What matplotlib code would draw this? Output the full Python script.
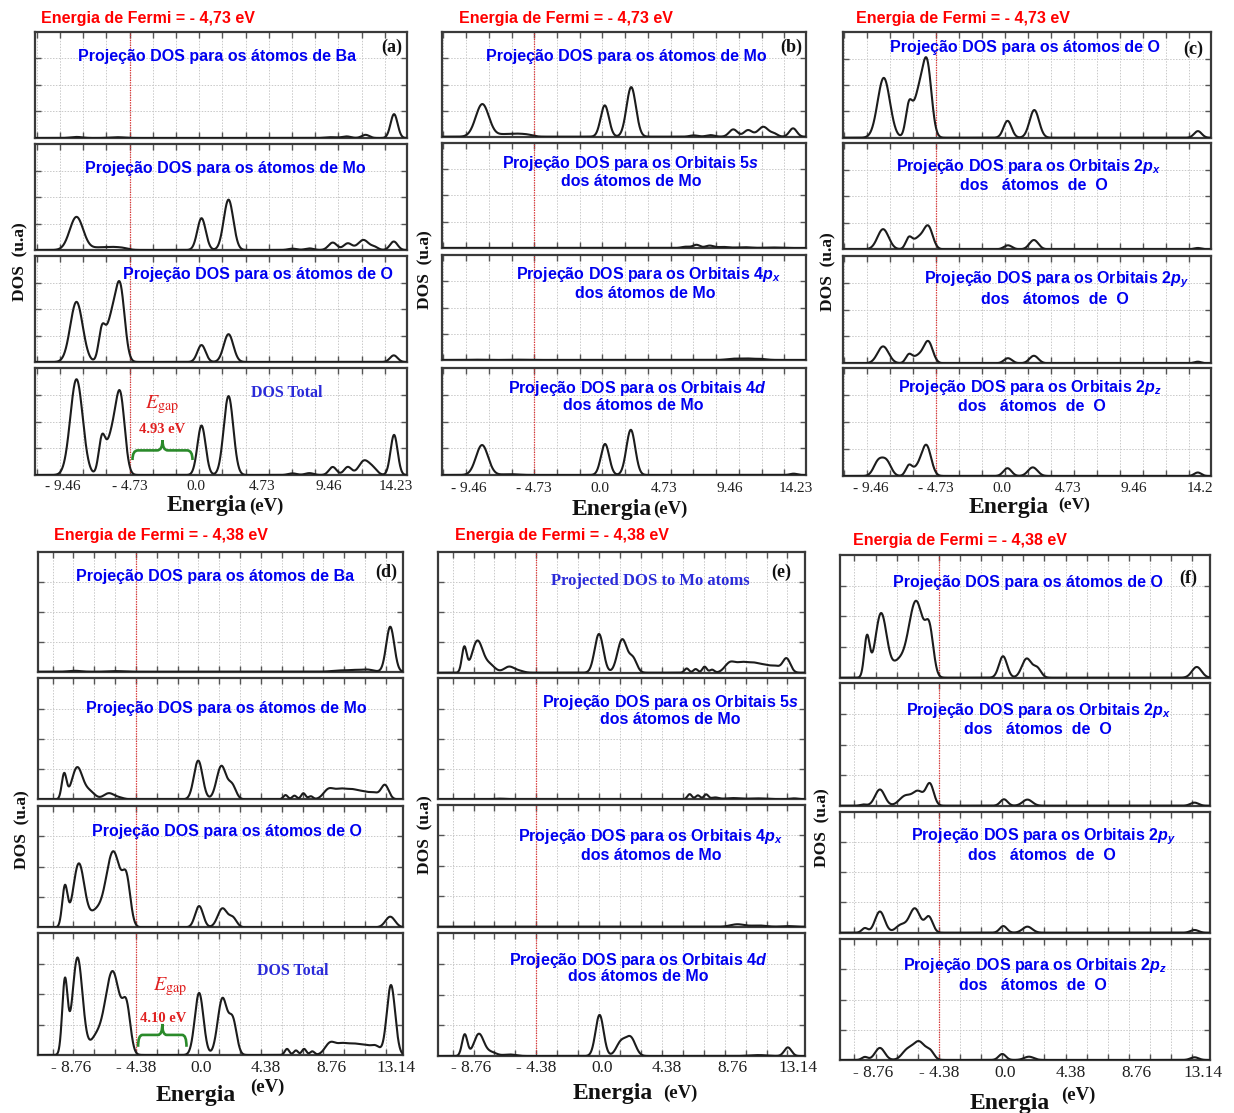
import numpy as np
import matplotlib.pyplot as plt
from matplotlib.path import Path
from matplotlib.patches import PathPatch
from matplotlib.transforms import blended_transform_factory

plt.rcParams.update({
    "mathtext.fontset": "custom",
    "mathtext.rm": "Liberation Sans:bold",
    "mathtext.it": "Liberation Sans:italic:bold",
    "mathtext.bf": "Liberation Sans:bold",
})

W, H = 1234, 1113
SANS = "Liberation Sans"
SERIF = "Liberation Serif"
BLUE = "#0000f0"
RED = "#ff0000"

# ---------------------------------------------------------------------------
# Data: each DOS curve is a list of broadened levels
# (energy eV, height in grid units, width eV)
# ---------------------------------------------------------------------------
TOP_FERMI = -4.73
BOT_FERMI = -4.38
TOP_TICKS = [-9.46, -4.73, 0.0, 4.73, 9.46, 14.23]
TOP_LABELS = ["- 9.46", "- 4.73", "0.0", "4.73", "9.46", "14.23"]
TOP_LABELS_C = ["- 9.46", "- 4.73", "0.0", "4.73", "9.46", "14.2"]
BOT_TICKS = [-8.76, -4.38, 0.0, 4.38, 8.76, 13.14]
BOT_LABELS = ["- 8.76", "- 4.38", "0.0", "4.38", "8.76", "13.14"]

# --- Fermi = -4.73 eV set ---
BA_1 = [(-8.5, 0.04, 0.4), (-5.6, 0.03, 0.5), (9.6, 0.03, 0.4), (10.7, 0.06, 0.3),
        (12.05, 0.12, 0.27), (14.08, 0.9, 0.25)]
MO_1 = [(-8.5, 1.25, 0.48), (-7.0, 0.08, 0.5), (-6.0, 0.1, 0.5), (-5.2, 0.06, 0.4),
        (0.39, 1.2, 0.3), (2.31, 1.9, 0.34), (6.86, 0.05, 0.3), (8.06, 0.06, 0.3),
        (9.72, 0.28, 0.3), (10.79, 0.25, 0.3), (11.9, 0.38, 0.38), (12.7, 0.1, 0.25),
        (14.06, 0.32, 0.27)]
O_1 = [(-8.5, 2.27, 0.44), (-6.7, 1.1, 0.23), (-6.0, 1.6, 0.38), (-5.38, 2.55, 0.32),
       (0.39, 0.64, 0.29), (2.31, 1.05, 0.34), (14.06, 0.25, 0.27)]
TOTAL_1 = [(-8.5, 3.58, 0.44), (-6.7, 1.25, 0.23), (-6.0, 1.4, 0.38), (-5.38, 2.75, 0.32),
           (0.39, 1.85, 0.29), (2.31, 2.95, 0.34), (6.86, 0.06, 0.3), (8.06, 0.07, 0.3),
           (9.72, 0.3, 0.27), (10.79, 0.3, 0.27), (11.95, 0.53, 0.38), (12.6, 0.2, 0.3),
           (14.08, 1.5, 0.25)]
MO_5S_1 = [(6.3, 0.05, 0.3), (7.05, 0.12, 0.25), (8.0, 0.09, 0.3), (9.0, 0.04, 0.4),
           (10.5, 0.03, 0.5), (12.5, 0.02, 0.5)]
MO_4PX_1 = [(-9.0, 0.01, 0.4), (-6.0, 0.01, 0.4), (9.6, 0.04, 0.4), (10.6, 0.06, 0.5),
            (11.7, 0.04, 0.4)]
MO_4D_1 = [(-8.52, 1.12, 0.44), (-6.5, 0.03, 0.6), (0.41, 1.16, 0.3), (2.28, 1.69, 0.32),
           (14.1, 0.05, 0.25)]
O_2PX_1 = [(-8.55, 0.76, 0.4), (-6.7, 0.4, 0.23), (-6.0, 0.42, 0.38), (-5.3, 0.82, 0.32),
           (0.42, 0.15, 0.29), (2.28, 0.35, 0.32), (14.05, 0.05, 0.25)]
O_2PY_1 = [(-8.55, 0.63, 0.4), (-6.7, 0.3, 0.23), (-6.0, 0.28, 0.38), (-5.3, 0.78, 0.32),
           (0.42, 0.19, 0.29), (2.28, 0.28, 0.32), (14.05, 0.06, 0.25)]
O_2PZ_1 = [(-8.9, 0.52, 0.33), (-8.3, 0.52, 0.33), (-6.7, 0.36, 0.23), (-6.0, 0.33, 0.38),
           (-5.42, 1.05, 0.33), (0.38, 0.29, 0.29), (2.2, 0.32, 0.34), (14.05, 0.13, 0.25)]

# --- Fermi = -4.38 eV set ---
BA_2 = [(-8.5, 0.03, 0.4), (-5.7, 0.02, 0.5), (9.3, 0.04, 0.5), (10.3, 0.05, 0.4),
        (11.2, 0.07, 0.4), (12.75, 1.5, 0.27)]
MO_2 = [(-9.21, 0.82, 0.16), (-8.33, 1.05, 0.36), (-7.5, 0.25, 0.35), (-6.2, 0.2, 0.35),
        (-5.5, 0.05, 0.3), (-0.18, 1.28, 0.29), (1.38, 1.1, 0.32), (2.1, 0.45, 0.26),
        (5.7, 0.14, 0.15), (6.3, 0.12, 0.15), (6.9, 0.2, 0.15), (7.4, 0.1, 0.15),
        (8.6, 0.32, 0.35), (9.4, 0.3, 0.4), (10.2, 0.27, 0.4), (11.0, 0.22, 0.4),
        (11.7, 0.17, 0.3), (12.39, 0.47, 0.26)]
O_2 = [(-9.16, 1.3, 0.18), (-8.22, 2.1, 0.38), (-7.1, 0.45, 0.4), (-5.9, 2.5, 0.5),
       (-5.0, 1.3, 0.26), (-0.12, 0.7, 0.27), (1.45, 0.62, 0.32), (2.15, 0.3, 0.26),
       (12.75, 0.35, 0.32)]
TOTAL_2 = [(-9.16, 2.4, 0.18), (-8.31, 3.2, 0.34), (-7.1, 0.5, 0.4), (-5.95, 2.75, 0.5),
           (-5.0, 1.35, 0.26), (-0.12, 2.04, 0.29), (1.45, 1.85, 0.32), (2.15, 1.1, 0.26),
           (5.8, 0.2, 0.15), (6.4, 0.15, 0.15), (6.95, 0.2, 0.15), (7.5, 0.12, 0.15),
           (8.7, 0.38, 0.35), (9.5, 0.33, 0.4), (10.3, 0.3, 0.4), (11.1, 0.28, 0.4),
           (11.8, 0.25, 0.3), (12.8, 2.3, 0.28)]
MO_5S_2 = [(-6.8, 0.02, 0.4), (5.9, 0.17, 0.15), (6.45, 0.13, 0.15), (7.0, 0.16, 0.15),
           (7.6, 0.06, 0.25), (8.8, 0.04, 0.5), (10.5, 0.03, 0.6), (12.9, 0.03, 0.3)]
MO_4PX_2 = [(9.1, 0.08, 0.45), (10.5, 0.04, 0.5), (12.5, 0.02, 0.4)]
MO_4D_2 = [(-9.18, 0.7, 0.18), (-8.23, 0.72, 0.33), (-7.4, 0.12, 0.35), (-6.17, 0.05, 0.4),
           (-0.14, 1.34, 0.27), (1.3, 0.45, 0.32), (1.95, 0.58, 0.32), (10.5, 0.03, 0.6),
           (12.48, 0.28, 0.24)]
O_2PX_2 = [(-9.4, 0.04, 0.2), (-8.3, 0.53, 0.32), (-6.6, 0.32, 0.4), (-5.75, 0.45, 0.35),
           (-4.98, 0.7, 0.26), (-0.06, 0.21, 0.24), (1.5, 0.2, 0.32), (12.6, 0.1, 0.27)]
O_2PY_2 = [(-9.3, 0.15, 0.2), (-8.3, 0.7, 0.32), (-6.9, 0.25, 0.35), (-5.98, 0.8, 0.36),
           (-5.05, 0.52, 0.26), (-0.1, 0.22, 0.24), (1.5, 0.2, 0.32), (12.6, 0.09, 0.27)]
O_2PZ_2 = [(-9.3, 0.1, 0.2), (-8.3, 0.4, 0.32), (-6.5, 0.3, 0.35), (-5.7, 0.6, 0.4),
           (-4.95, 0.25, 0.26), (-0.17, 0.2, 0.24), (1.6, 0.11, 0.32), (12.6, 0.09, 0.27)]

TITLE_BA = "Projeção DOS para os átomos de Ba"
TITLE_MO = "Projeção DOS para os átomos de Mo"
TITLE_O = "Projeção DOS para os átomos de O"
ORB_5S = ["Projeção DOS para os Orbitais $\\mathit{5s}$", "dos átomos de Mo"]
ORB_4PX = ["Projeção DOS para os Orbitais $\\mathit{4p}_{x}$", "dos átomos de Mo"]
ORB_4D = ["Projeção DOS para os Orbitais $\\mathit{4d}$", "dos átomos de Mo"]
ORB_2PX = ["Projeção DOS para os Orbitais 2$p_{x}$", "dos   átomos  de  O"]
ORB_2PY = ["Projeção DOS para os Orbitais 2$p_{y}$", "dos   átomos  de  O"]
ORB_2PZ = ["Projeção DOS para os Orbitais 2$p_{z}$", "dos   átomos  de  O"]

# ---------------------------------------------------------------------------
fig = plt.figure(figsize=(W / 100, H / 100), dpi=100)


def ftext(x, y, s, **kw):
    return fig.text(x / W, 1 - y / H, s, **kw)


def dos(peaks, e):
    y = np.zeros_like(e)
    for c, h, w in peaks:
        y += h * np.exp(-(e - c) ** 2 / (2 * w * w))
    return y


def brace(ax, x0, x1, yb, yl, yt, color="#2a8a2a"):
    xm = (x0 + x1) / 2
    r = (x1 - x0) * 0.09
    verts = [(x0, yb), (x0, yl), (x0 + r, yl), (xm - r, yl), (xm, yl), (xm, yt),
             (xm, yl), (xm + r, yl), (x1 - r, yl), (x1, yl), (x1, yb)]
    codes = [Path.MOVETO, Path.CURVE3, Path.CURVE3, Path.LINETO, Path.CURVE3, Path.CURVE3,
             Path.CURVE3, Path.CURVE3, Path.LINETO, Path.CURVE3, Path.CURVE3]
    ax.add_patch(PathPatch(Path(verts, codes), fc="none", ec=color, lw=1.9, zorder=5))


def panel(left, right, rows, xlim, fermi, step, curves, ticks, labels, tick_y, tick_fs):
    axes = []
    grid = fermi + step * np.arange(-6, 16)
    grid = grid[(grid > xlim[0] + 0.05) & (grid < xlim[1] - 0.05)]
    e = np.linspace(xlim[0], xlim[1], 2000)
    for (top, bottom), peaks in zip(rows, curves):
        ax = fig.add_axes([left / W, 1 - bottom / H, (right - left) / W, (bottom - top) / H])
        ax.set_xlim(xlim)
        ax.set_ylim(0, 4)
        ax.set_xticks(grid)
        ax.set_yticks([1, 2, 3])
        ax.tick_params(direction="in", length=4, width=1, color="#555555",
                       top=True, right=True, labelbottom=False, labelleft=False)
        ax.grid(True, color="#c9c9c9", ls=(0, (1.5, 1.5)), lw=0.7)
        ax.axvline(fermi, color="#e03030", ls=(0, (1, 1)), lw=0.9, zorder=2)
        for sp in ax.spines.values():
            sp.set_color("#3a3a3a")
            sp.set_linewidth(1.6)
        ax.plot(e, dos(peaks, e), color="#1c1c1c", lw=1.5, zorder=3)
        axes.append(ax)
    tr = blended_transform_factory(axes[-1].transData, fig.transFigure)
    for t, lab in zip(ticks, labels):
        axes[-1].text(t, 1 - tick_y / H, lab, transform=tr, ha="center", va="center",
                      family=SERIF, fontsize=tick_fs, color="#202020")
    return axes


def titles(items, size=11.5):
    for x, y, s in items:
        ftext(x, y, s, ha="center", va="center", family=SANS, weight="bold",
              fontsize=size, color=BLUE)


def fermi_title(x, y, s):
    ftext(x, y, s, ha="center", va="center", family=SANS, weight="bold",
          fontsize=11.5, color=RED)


def energia(x1, y1, x2, y2, fs1=17, fs2=13.5):
    ftext(x1, y1, "Energia", ha="center", va="center", family=SERIF, weight="bold",
          fontsize=fs1, color="#111111")
    ftext(x2, y2, "(eV)", ha="center", va="center", family=SERIF, weight="bold",
          fontsize=fs2, color="#111111")


def ylab(x, y):
    ftext(x, y, "DOS  (u.a)", ha="center", va="center", rotation=90, family=SERIF,
          weight="bold", fontsize=12.5, color="#111111")


def letter(x, y, s):
    ftext(x, y, s, ha="center", va="center", family=SERIF, weight="bold",
          fontsize=13, color="#111111")


TOP_XLIM = (-11.45, 15.0)
BOT_XLIM = (-10.95, 13.63)

# ---------------- (a) ----------------
ax_a = panel(35, 407, [(32, 138), (144, 250), (256, 362), (368, 475)], TOP_XLIM, TOP_FERMI,
             1.65, [BA_1, MO_1, O_1, TOTAL_1], TOP_TICKS, TOP_LABELS, 487, 11)
fermi_title(148, 19, "Energia de Fermi = - 4,73 eV")
titles([(217, 57, TITLE_BA), (225, 168, TITLE_MO), (258, 275, TITLE_O)])
letter(392, 47, "(a)")
brace(ax_a[3], -4.52, -0.25, 0.56, 0.92, 1.3)
ax_a[3].text(-2.38, 1.7, "4.93 eV", ha="center", va="center", family=SERIF, weight="bold",
             fontsize=10.5, color="#e02020")
ax_a[3].text(-2.38, 2.62, "$E_{\\rm gap}$", ha="center", va="center", fontsize=14.5,
             color="#e02020", math_fontfamily="stix")
ax_a[3].text(6.43, 3.07, "DOS Total", ha="center", va="center", family=SERIF, weight="bold",
             fontsize=11.5, color="#2b2bd9")
energia(207, 506, 266, 506)
ylab(20, 262)

# ---------------- (b) ----------------
panel(441.7, 806, [(32.3, 136.7), (142.7, 248), (255, 360), (368, 475)], TOP_XLIM, TOP_FERMI,
      1.65, [MO_1, MO_5S_1, MO_4PX_1, MO_4D_1], TOP_TICKS, TOP_LABELS, 488, 11)
fermi_title(566, 19, "Energia de Fermi = - 4,73 eV")
titles([(626.7, 56.7, TITLE_MO),
        (630, 163.3, ORB_5S[0]), (631.7, 181.7, ORB_5S[1]),
        (648.3, 275, ORB_4PX[0]), (645, 293.3, ORB_4PX[1]),
        (636.7, 388.3, ORB_4D[0]), (633.3, 405, ORB_4D[1])])
letter(791.7, 47, "(b)")
energia(612, 509, 670, 509)
ylab(425, 270)

# ---------------- (c) ----------------
panel(842.7, 1211, [(32.3, 137.7), (143.3, 249.3), (256, 363.3), (368.3, 476)], TOP_XLIM,
      TOP_FERMI, 1.65, [O_1, O_2PX_1, O_2PY_1, O_2PZ_1], TOP_TICKS, TOP_LABELS_C, 488, 11)
fermi_title(963.3, 18, "Energia de Fermi = - 4,73 eV")
titles([(1025, 47.7, TITLE_O),
        (1028.3, 166.7, ORB_2PX[0]), (1034, 186, ORB_2PX[1]),
        (1056.7, 280, ORB_2PY[0]), (1055, 299.3, ORB_2PY[1]),
        (1030, 387.3, ORB_2PZ[0]), (1031.7, 406.7, ORB_2PZ[1])])
letter(1193.3, 49, "(c)")
energia(1009, 508, 1074, 505, 17, 12.5)
ylab(828, 272)

# ---------------- (d) ----------------
ax_d = panel(38.3, 403.3, [(551.7, 671.7), (678.3, 799.3), (806, 927.3), (933.3, 1055)],
             BOT_XLIM, BOT_FERMI, 1.403, [BA_2, MO_2, O_2, TOTAL_2], BOT_TICKS, BOT_LABELS,
             1068, 12.5)
fermi_title(161, 535, "Energia de Fermi = - 4,38 eV")
titles([(215, 576.7, TITLE_BA), (226.7, 708.3, TITLE_MO), (226.7, 831.7, TITLE_O)])
letter(386.7, 572, "(d)")
brace(ax_d[3], -4.23, -0.97, 0.27, 0.66, 1.02)
ax_d[3].text(-2.54, 1.21, "4.10 eV", ha="center", va="center", family=SERIF, weight="bold",
             fontsize=10.5, color="#e02020")
ax_d[3].text(-2.09, 2.24, "$E_{\\rm gap}$", ha="center", va="center", fontsize=14.5,
             color="#e02020", math_fontfamily="stix")
ax_d[3].text(6.16, 2.77, "DOS Total", ha="center", va="center", family=SERIF, weight="bold",
             fontsize=11.5, color="#2b2bd9")
energia(196, 1096, 267, 1087)
ylab(22, 830)

# ---------------- (e) ----------------
panel(438.3, 805, [(551.7, 672.7), (678.3, 799.3), (805, 926.7), (933.3, 1056)], BOT_XLIM,
      BOT_FERMI, 1.403, [MO_2, MO_5S_2, MO_4PX_2, MO_4D_2], BOT_TICKS, BOT_LABELS, 1068, 12.5)
fermi_title(562, 535, "Energia de Fermi = - 4,38 eV")
ftext(650, 581, "Projected DOS to Mo atoms", ha="center", va="center", family=SERIF,
      weight="bold", fontsize=12, color="#2b2bd9")
titles([(670, 702.7, ORB_5S[0]), (670, 719.3, ORB_5S[1]),
        (650, 836, ORB_4PX[0]), (651.7, 855, ORB_4PX[1]),
        (638.3, 960.7, ORB_4D[0]), (638.3, 976.7, ORB_4D[1])])
letter(781.7, 572, "(e)")
energia(613, 1094, 680, 1093)
ylab(425, 835)

# ---------------- (f) ----------------
panel(840, 1210, [(555, 677.7), (683.3, 805.7), (811.7, 932.7), (939.3, 1060)], BOT_XLIM,
      BOT_FERMI, 1.403, [O_2, O_2PX_2, O_2PY_2, O_2PZ_2], BOT_TICKS, BOT_LABELS, 1073, 12.5)
fermi_title(960, 541, "Energia de Fermi = - 4,38 eV")
titles([(1028.3, 582.7, TITLE_O),
        (1038.3, 710, ORB_2PX[0]), (1038.3, 730, ORB_2PX[1]),
        (1043.3, 836.7, ORB_2PY[0]), (1041.7, 856, ORB_2PY[1]),
        (1035, 965.7, ORB_2PZ[0]), (1032.7, 985.7, ORB_2PZ[1])])
letter(1188.3, 578, "(f)")
energia(1010, 1103, 1078, 1095)
ylab(822, 828)

fig.savefig("out.png", dpi=100, facecolor="white")
